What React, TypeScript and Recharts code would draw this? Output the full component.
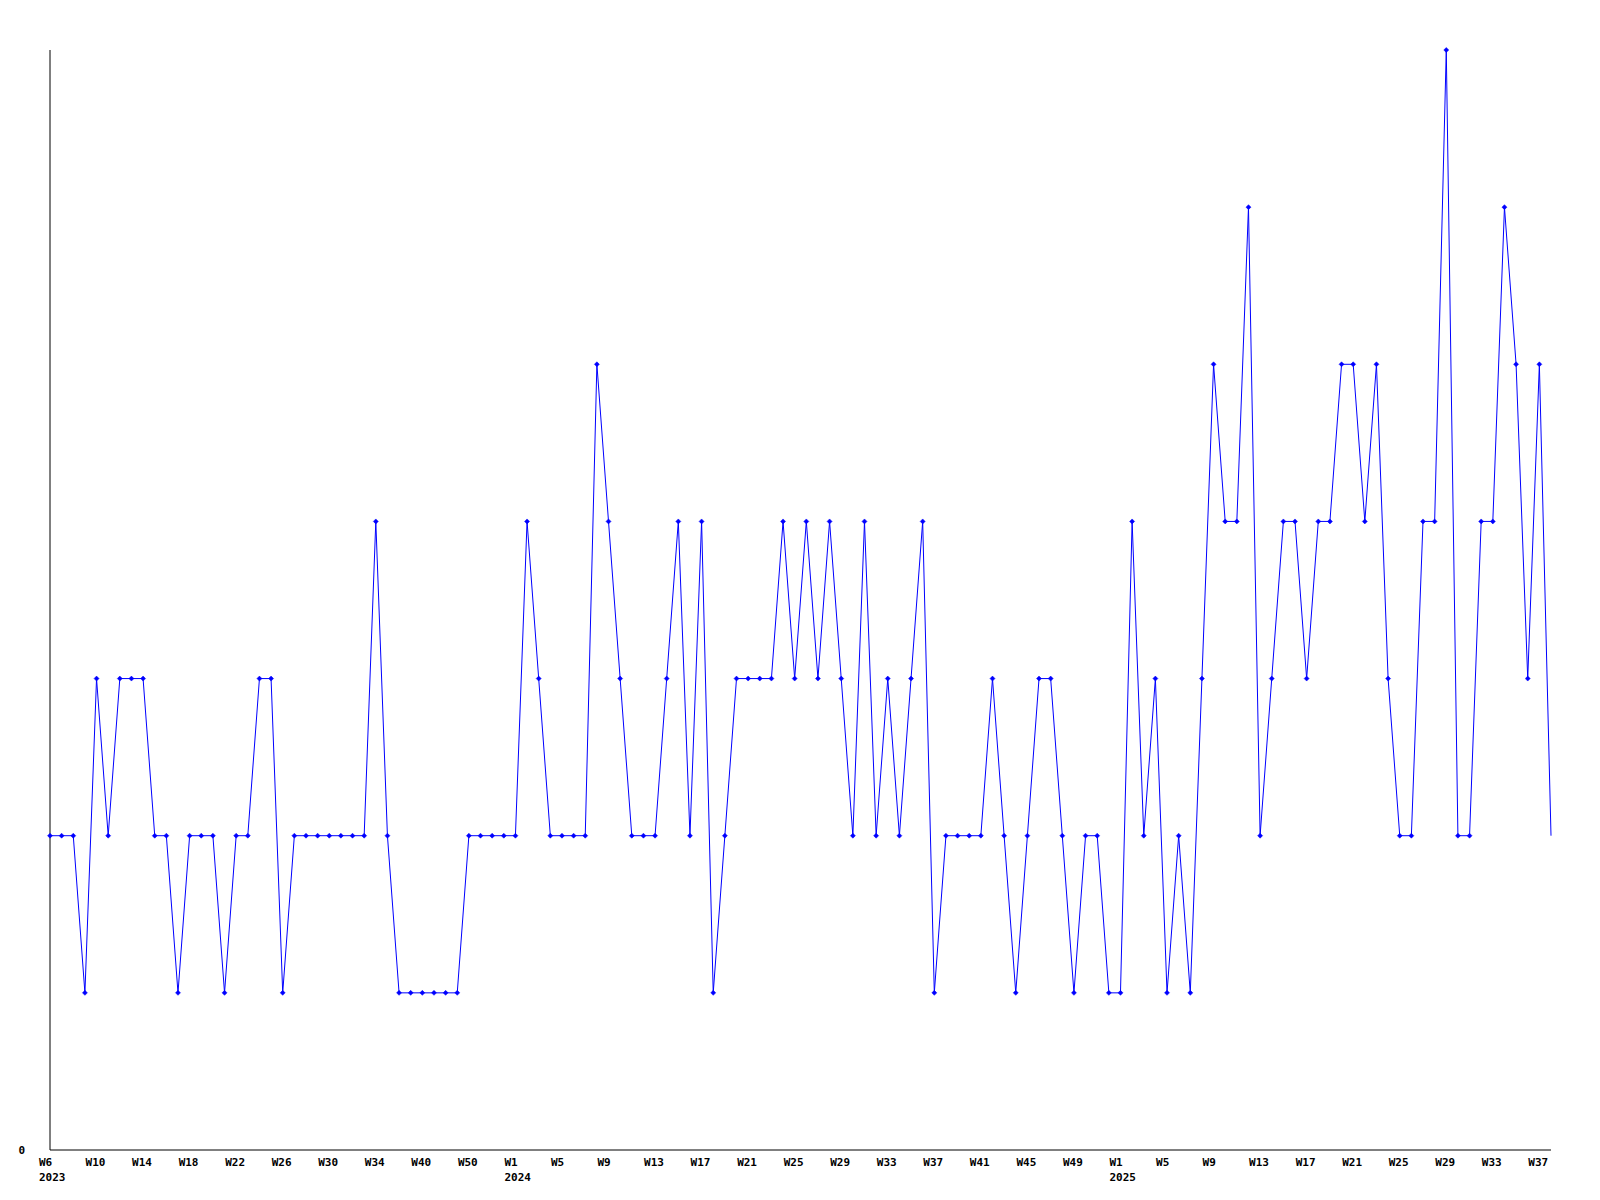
import { LineChart, Line, XAxis, YAxis } from "recharts";

const weeks2023 = [
  "W6", "W7", "W8", "W9", "W10", "W11", "W12", "W13", "W14", "W15",
  "W16", "W17", "W18", "W19", "W20", "W21", "W22", "W23", "W24", "W25",
  "W26", "W27", "W28", "W29", "W30", "W31", "W32", "W33", "W34", "W35",
  "W37", "W38", "W40", "W43", "W46", "W48", "W50", "W51", "W52", "W53",
];
const weeks2024 = Array.from({ length: 52 }, (_, i) => `W${i + 1}`);
const weeks2025 = Array.from({ length: 38 }, (_, i) => `W${i + 1}`);

const counts = [
  2, 2, 2, 1, 3, 2, 3, 3, 3, 2,
  2, 1, 2, 2, 2, 1, 2, 2, 3, 3,
  1, 2, 2, 2, 2, 2, 2, 2, 4, 2,
  1, 1, 1, 1, 1, 1, 2, 2, 2, 2,
  2, 4, 3, 2, 2, 2, 2, 5, 4, 3,
  2, 2, 2, 3, 4, 2, 4, 1, 2, 3,
  3, 3, 3, 4, 3, 4, 3, 4, 3, 2,
  4, 2, 3, 2, 3, 4, 1, 2, 2, 2,
  2, 3, 2, 1, 2, 3, 3, 2, 1, 2,
  2, 1, 1, 4, 2, 3, 1, 2, 1, 3,
  5, 4, 4, 6, 2, 3, 4, 4, 3, 4,
  4, 5, 5, 4, 5, 3, 2, 2, 4, 4,
  7, 2, 2, 4, 4, 6, 5, 3, 5, 2,
];

const categories = [
  ...weeks2023.map((w) => ({ week: w, year: "2023" })),
  ...weeks2024.map((w) => ({ week: w, year: "2024" })),
  ...weeks2025.map((w) => ({ week: w, year: "2025" })),
];

const data = categories.map((c, i) => ({
  key: `${c.year}-${c.week}`,
  count: counts[i],
}));

const FONT = "'DejaVu Sans Mono', monospace";

function WeekTick(props: any) {
  const { x, y, payload, index } = props;
  const [year, week] = String(payload.value).split("-");
  const showYear = index === 0 || week === "W1";
  return (
    <g>
      <text x={x - 11} y={y + 14} textAnchor="start" fontFamily={FONT} fontSize={11} fontWeight="bold" fill="#000">
        {week}
      </text>
      {showYear && (
        <text x={x - 11} y={y + 29} textAnchor="start" fontFamily={FONT} fontSize={11} fontWeight="bold" fill="#000">
          {year}
        </text>
      )}
    </g>
  );
}

function Marker(props: any) {
  const { cx, cy, index } = props;
  if (index === data.length - 1 || cx == null) return <g key={index} />;
  const r = 2.5;
  return (
    <path
      key={index}
      d={`M${cx - r},${cy} L${cx},${cy - r} L${cx + r},${cy} L${cx},${cy + r} Z`}
      fill="#0000ff"
      stroke="#0000ff"
      strokeWidth={0.5}
    />
  );
}

export default function App() {
  return (
    <div style={{ position: "absolute", left: 0, top: 0, background: "#fff" }}>
      <LineChart width={1600} height={1200} data={data} margin={{ top: 50, right: 49, bottom: 0, left: 0 }}>
        <XAxis
          dataKey="key"
          interval={3}
          tickLine={false}
          tickSize={0}
          height={50}
          axisLine={{ stroke: "#000", strokeWidth: 1 }}
          tick={<WeekTick />}
        />
        <YAxis
          domain={[0, 7]}
          ticks={[0]}
          width={50}
          tickLine={false}
          tickSize={0}
          tickMargin={25}
          axisLine={{ stroke: "#000", strokeWidth: 1 }}
          tick={{ fontFamily: FONT, fontSize: 11, fontWeight: "bold", fill: "#000" }}
        />
        <Line
          type="linear"
          dataKey="count"
          stroke="#0000ff"
          strokeWidth={1}
          dot={<Marker />}
          activeDot={false}
          isAnimationActive={false}
        />
      </LineChart>
    </div>
  );
}
